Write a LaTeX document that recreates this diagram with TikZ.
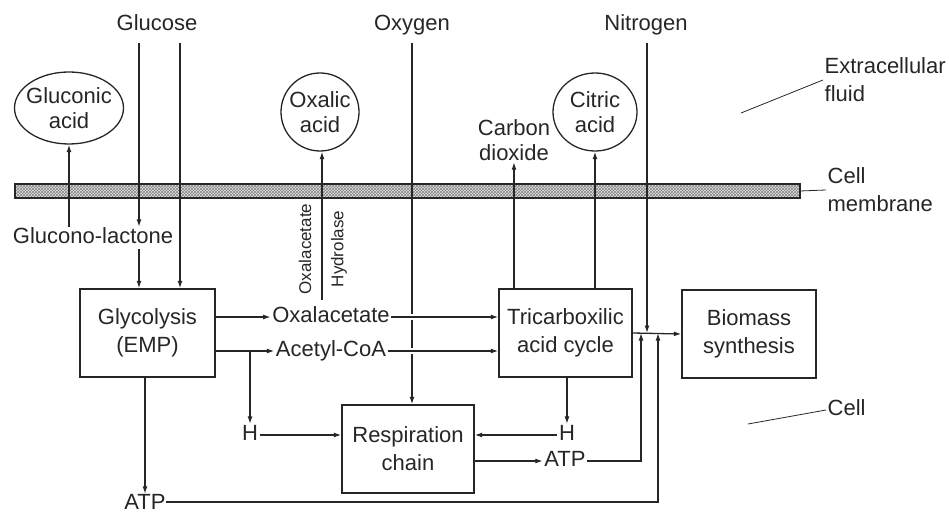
\documentclass[tikz,border=0pt]{standalone}
\usepackage{fontspec}
\setmainfont{Liberation Sans}
\usepackage{tikz}
\usetikzlibrary{positioning,arrows.meta,calc,shapes.geometric,patterns}

\begin{document}
\begin{tikzpicture}[x=1pt, y=-1pt, line width=1.3pt, color=black!85,
  font=\fontsize{22}{28}\selectfont,
  txt/.style={inner sep=1pt, text height=15pt, text depth=4pt},
  blk/.style={draw, line width=1.4pt, align=center, minimum width=133pt, minimum height=88pt},
  blob/.style={draw, ellipse, align=center, inner xsep=-12pt, inner ysep=0pt,
    font=\fontsize{22}{25}\selectfont},
  arr/.style={-{Latex[length=7.5pt,width=5pt]}},
  gap/.style={preaction={draw=white, line width=6pt, -, shorten >=5pt}},
  rot/.style={rotate=90, font=\fontsize{17}{20}\selectfont, inner sep=1pt},
  lead/.style={line width=0.8pt}]
\useasboundingbox (0,0) rectangle (949,513);
% cell membrane
\fill[gray!20] (15,184) rectangle (800,198);
\fill[pattern=crosshatch, pattern color=gray] (15,184) rectangle (800,198);
\draw (15,184) rectangle (800,198);
% substrates
\node[txt] (glucose) at (157,25) {Glucose};
\node[txt] (oxygen) at (412,25) {Oxygen};
\node[txt] (nitrogen) at (646,25) {Nitrogen};
% excreted products
\node[blob, minimum width=109pt, minimum height=72pt] (gluconic) at (69,108) {Gluconic\\acid};
\node[blob, minimum width=78pt, minimum height=78pt] (oxalic) at (320,112) {Oxalic\\acid};
\node[blob, minimum width=84pt, minimum height=78pt] (citric) at (595,112) {Citric\\acid};
\node[align=center, inner sep=1pt, font=\fontsize{22}{25}\selectfont] (co2) at (514,140) {Carbon\\dioxide};
% inside the cell
\node[txt] (lactone) at (93,238) {Glucono-lactone};
\node[blk, minimum width=135pt] (glyco) at (147.5,333) {Glycolysis\\(EMP)};
\node[txt] (oxac) at (331,317) {Oxalacetate};
\node[txt] (acetyl) at (331,351) {Acetyl-CoA};
\node[blk] (tca) at (565.5,333) {Tricarboxilic\\acid cycle};
\node[blk, minimum width=134pt] (biomass) at (749,334) {Biomass\\synthesis};
\node[blk, minimum width=132pt] (resp) at (408,449) {Respiration\\chain};
\node[txt] (hl) at (250,435) {H};
\node[txt] (hr) at (567,435) {H};
\node[txt] (atpr) at (565,461) {ATP};
\node[txt, text depth=0pt, inner sep=0pt] (atpb) at (145,502) {ATP};
\node[rot] (oxlab) at (305,249) {Oxalacetate};
\node[rot] (hydlab) at (339,249) {Hydrolase};
% side labels
\node[align=left, anchor=west, inner sep=1pt] (extra) at (823,80) {Extracellular\\fluid};
\node[align=left, anchor=west, inner sep=1pt] (memlbl) at (826,190) {Cell\\membrane};
\node[txt, anchor=west] (celllbl) at (826,410) {Cell};
% free ends
\coordinate (g1) at (139,43);
\coordinate (g2) at (180,43);
\coordinate (o1) at (412,43);
\coordinate (n1) at (647,43);
\coordinate (hy) at (322,300);
\coordinate (up1) at (641,0);
\coordinate (up2) at (658,0);
\coordinate (e0) at (741,113);
\coordinate (m0) at (800,191);
\coordinate (c0) at (748,424);
% fluxes
\draw[arr] (g1) -- (g1 |- lactone.north);
\draw[arr] (g1 |- lactone.south) -- (g1 |- glyco.north);
\draw[arr] (g2) -- (g2 |- glyco.north);
\draw[arr] (gluconic.south |- lactone.north) -- (gluconic.south);
\draw[arr] (hy) -- (hy |- oxalic.south);
\draw[arr] (o1) -- (o1 |- resp.north);
\draw[arr] (n1) -- (n1 |- tca.east);
\draw[arr] (tca.north -| co2) -- (co2.south);
\draw[arr] (tca.north -| citric) -- (citric.south);
\draw[arr] (glyco.east |- oxac.west) -- (oxac.west);
\draw[arr] (glyco.east |- acetyl.west) -- (acetyl.west);
\draw[arr, gap] (oxac.east) -- (oxac.east -| tca.west);
\draw[arr, gap] (acetyl.east) -- (acetyl.east -| tca.west);
\draw[arr] (hl |- acetyl.west) -- (hl.north);
\draw[arr] (hl.east) -- (hl.east -| resp.west);
\draw[arr] (tca.south -| hr) -- (hr.north);
\draw[arr] (hr.west) -- (hr.west -| resp.east);
\draw[arr] (resp.east |- atpr.west) -- (atpr.west);
\draw[arr] (glyco.south -| atpb) -- (atpb.north);
\draw[arr] (tca.east) -- (biomass.west);
\draw[arr] (atpr.east) -| (up1 |- tca.east);
\draw[arr] (atpb.east) -| (up2 |- tca.east);
% leaders
\draw[lead] (e0) -- (extra.west);
\draw[lead] (m0) -- (memlbl.west);
\draw[lead] (c0) -- (celllbl.west);
\end{tikzpicture}
\end{document}
